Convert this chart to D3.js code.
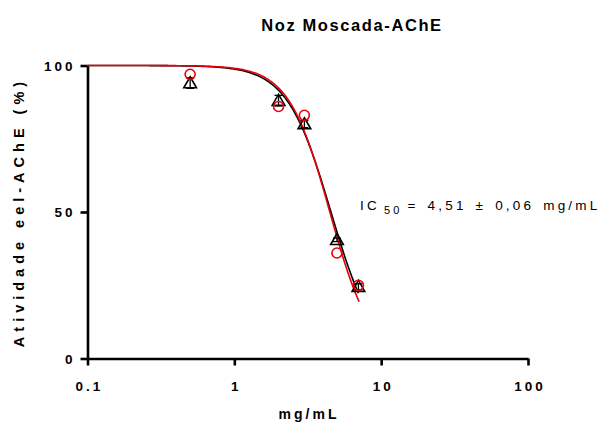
<!DOCTYPE html>
<html>
<head>
<meta charset="utf-8">
<script src="https://cdn.jsdelivr.net/npm/d3@7"></script>
<style>
  html, body { margin: 0; padding: 0; background: #fff; }
  svg text { font-family: "Liberation Sans", Arial, sans-serif; }
</style>
</head>
<body>
<svg id="chart" width="601" height="425"></svg>
<script>
// Concentrations (mg/mL)
const doses = [0.5, 2, 3, 5, 7];
// Replicate A (black triangles): mean and SD
const seriesA = [94, 88, 80, 40.5, 24.5];
const seriesASd = [1.8, 1.8, 1.2, 0.6, 1.0];
// Replicate B (red circles): mean and SD
const seriesB = [97, 86, 83, 36, 25];
const seriesBSd = [0, 0, 0, 0, 0];
// Fitted dose-response parameters [IC50, Hill slope]
const fitA = [4.55, 2.9];
const fitB = [4.47, 3.1];
const xTicks = [0.1, 1, 10, 100];
const yTicks = [0, 50, 100];

const svg = d3.select("#chart");
const x = d3.scaleLog().domain([0.1, 100]).range([87.5, 528]);
const y = d3.scaleLinear().domain([0, 100]).range([358.5, 65.5]);

const hill = (p) => (c) => 100 / (1 + Math.pow(c / p[0], p[1]));

// Axes
const xAxis = d3.axisBottom(x).tickValues(xTicks).tickFormat(d3.format("")).tickSize(7).tickSizeOuter(0);
const yAxis = d3.axisLeft(y).tickValues(yTicks).tickSize(7).tickSizeOuter(0);

const gx = svg.append("g").attr("transform", "translate(0,358.5)").call(xAxis);
const gy = svg.append("g").attr("transform", "translate(87.5,0)").call(yAxis);
[gx, gy].forEach(g => {
  g.selectAll("path.domain").attr("stroke", "#000").attr("stroke-width", 2.6);
  g.selectAll(".tick line").attr("stroke", "#000").attr("stroke-width", 2.6);
  g.selectAll(".tick text").attr("fill", "#000").attr("font-size", 13.5).attr("font-weight", "bold")
    .style("letter-spacing", "3px");
});
gx.selectAll(".tick text").attr("y", 28).attr("dy", "0.35em").attr("dx", "1.5px");
gy.selectAll(".tick text").attr("x", -12).attr("dy", "0.35em");

// Fitted curves
function curve(p, xmax) {
  const pts = d3.range(0, 201).map(i => {
    const c = Math.pow(10, Math.log10(0.1) + (Math.log10(xmax) - Math.log10(0.1)) * i / 200);
    return [c, hill(p)(c)];
  });
  return d3.line().x(d => x(d[0])).y(d => y(d[1]))(pts);
}
svg.append("path").attr("d", curve(fitA, 7)).attr("fill", "none").attr("stroke", "#000").attr("stroke-width", 1.6);
svg.append("path").attr("d", curve(fitB, 7.08)).attr("fill", "none").attr("stroke", "#e8000b").attr("stroke-width", 1.6);

// Error bars (drawn only where the SD is non-zero)
function errorBars(vals, sds, color) {
  const g = svg.append("g").attr("stroke", color).attr("stroke-width", 1.3);
  doses.forEach((d, i) => {
    if (!sds[i]) return;
    const cx = x(d), t = y(vals[i] + sds[i]), b = y(vals[i] - sds[i]);
    g.append("line").attr("x1", cx).attr("x2", cx).attr("y1", t).attr("y2", b);
    g.append("line").attr("x1", cx - 4).attr("x2", cx + 4).attr("y1", t).attr("y2", t);
    g.append("line").attr("x1", cx - 4).attr("x2", cx + 4).attr("y1", b).attr("y2", b);
  });
}
errorBars(seriesA, seriesASd, "#000");
errorBars(seriesB, seriesBSd, "#e8000b");

// Markers
const tri = d3.symbol().type(d3.symbolTriangle).size(70);
svg.append("g").selectAll("path").data(doses).join("path")
  .attr("d", tri)
  .attr("transform", (d, i) => `translate(${x(d)},${y(seriesA[i]) + 1})`)
  .attr("fill", "none").attr("stroke", "#000").attr("stroke-width", 1.6);
svg.append("g").selectAll("circle").data(doses).join("circle")
  .attr("cx", d => x(d)).attr("cy", (d, i) => y(seriesB[i])).attr("r", 5)
  .attr("fill", "none").attr("stroke", "#e8000b").attr("stroke-width", 1.6);

// Title
svg.append("text").attr("x", 352).attr("y", 31).attr("text-anchor", "middle")
  .attr("font-size", 16.5).attr("font-weight", "bold").style("letter-spacing", "1.6px")
  .text("Noz Moscada-AChE");

// Axis titles
svg.append("text").attr("x", 309).attr("y", 419).attr("text-anchor", "middle")
  .attr("font-size", 14).attr("font-weight", "bold").style("letter-spacing", "3px")
  .text("mg/mL");
svg.append("text").attr("transform", "translate(24,212) rotate(-90)").attr("text-anchor", "middle")
  .attr("font-size", 14.5).attr("font-weight", "bold").style("letter-spacing", "5px")
  .text("Atividade eel-AChE (%)");

// IC50 annotation
const ann = svg.append("text").attr("x", 360).attr("y", 210).attr("font-size", 13.5)
  .style("letter-spacing", "3.2px").style("word-spacing", "2px");
ann.append("tspan").text("IC");
ann.append("tspan").attr("font-size", 11).attr("dx", 4).attr("dy", 4).text("50");
ann.append("tspan").attr("dy", -4).attr("dx", 5).text("= 4,51 ± 0,06 mg/mL");
</script>
</body>
</html>
